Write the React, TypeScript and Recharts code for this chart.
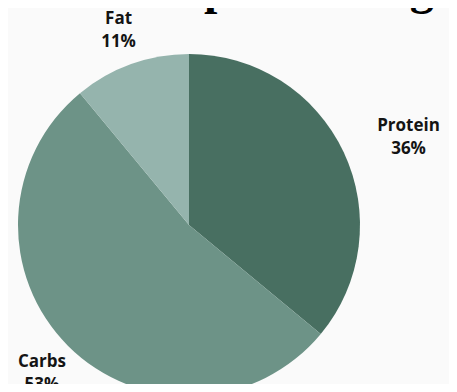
import { PieChart, Pie, Cell } from 'recharts';

const CATEGORIES = ['Protein', 'Carbs', 'Fat'];
const SHARES = [36, 53, 11];
const COLORS = ['#486f61', '#6d9387', '#95b4ad'];

const data = CATEGORIES.map((name, i) => ({ name, value: SHARES[i] }));

const RAD = Math.PI / 180;
const LABEL_FONT = '700 17px "Open Sans"';

let ctx: CanvasRenderingContext2D | null = null;
const textWidth = (s: string) => {
  if (!ctx) ctx = document.createElement('canvas').getContext('2d');
  if (!ctx) return s.length * 9;
  ctx.font = LABEL_FONT;
  return ctx.measureText(s).width;
};

// two-line label: name on top, percentage below, block centered
const renderLabel = (props: any) => {
  const { cx, cy, midAngle, outerRadius, name, value } = props;
  const r = outerRadius + 37;
  const cos = Math.cos(-midAngle * RAD);
  let x = cx + r * cos;
  const y = cy + r * Math.sin(-midAngle * RAD);
  // labels far to the right start at the anchor point
  if (cos > 0.8) x += Math.max(textWidth(name), textWidth(`${value}%`)) / 2;
  return (
    <text
      x={x}
      y={y}
      textAnchor="middle"
      fill="#141414"
      style={{ fontFamily: '"Open Sans", sans-serif', fontWeight: 700, fontSize: 17 }}
    >
      <tspan x={x} y={y - 5.5}>{name}</tspan>
      <tspan x={x} y={y + 17.5}>{`${value}%`}</tspan>
    </text>
  );
};

export default function App() {
  return (
    <div
      style={{
        margin: -8,
        width: 457,
        height: 392,
        position: 'relative',
        overflow: 'hidden',
        background: '#fafafa',
      }}
    >
      <PieChart width={457} height={392} margin={{ top: 0, right: 0, bottom: 0, left: 0 }}>
        <Pie
          data={data}
          dataKey="value"
          nameKey="name"
          cx={189}
          cy={225}
          outerRadius={171}
          startAngle={90}
          endAngle={-270}
          stroke="none"
          label={renderLabel}
          labelLine={false}
          isAnimationActive={false}
        >
          {data.map((entry, index) => (
            <Cell key={`cell-${index}`} fill={COLORS[index % COLORS.length]} />
          ))}
        </Pie>
      </PieChart>
      <div
        style={{
          position: 'absolute',
          left: 0,
          top: -36,
          width: 427,
          textAlign: 'center',
          fontFamily: '"Liberation Serif", serif',
          fontWeight: 700,
          fontSize: 48,
          lineHeight: '48px',
          whiteSpace: 'nowrap',
          color: '#000',
        }}
      >
        Nutrition per serving
      </div>
    </div>
  );
}
